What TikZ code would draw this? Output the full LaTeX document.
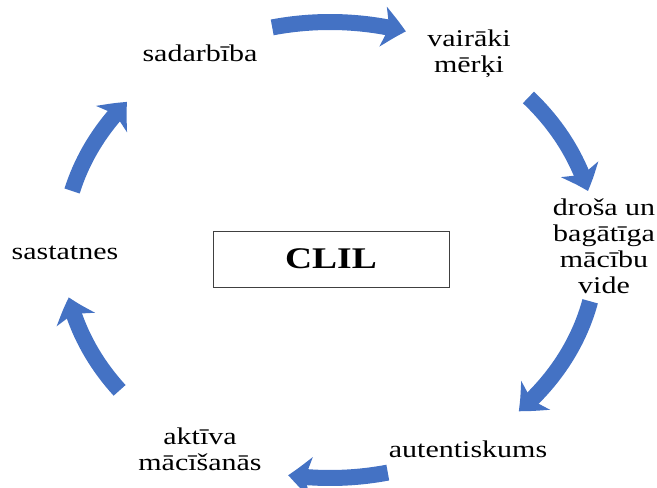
\documentclass[tikz,border=0pt]{standalone}
\usepackage{fontspec}
\setmainfont{Liberation Serif}[FakeStretch=1.25]
\usepackage{xcolor}
\usetikzlibrary{arrows.meta}
\usetikzlibrary{bending}

\definecolor{cycleblue}{HTML}{4472C4}

\begin{document}
\begin{tikzpicture}[ thick,x=1pt,y=1pt,
	lbl/.style={font=\fontsize{24}{26}\selectfont, align=center, inner sep=0pt},
	cyclearrow/.style={draw=cycleblue, line width=16pt,
		-{Stealth[length=23pt,width=40pt,inset=6pt,bend]}}]
	\useasboundingbox (0,0) rectangle (657,488);

	% (centre)
	\coordinate (O) at (330,238);
	\node[draw=black!75, line width=0.8pt, minimum width=236pt, minimum height=56pt,
		font=\fontsize{30}{32}\selectfont\bfseries] (clil) at (331,229) {CLIL};

	% (labels)
	\node[lbl, anchor=base] (sadarbiba) at (200,426) {sadarbība};
	\node[lbl] (merki) at (469,434) {vairāki\\mērķi};
	\node[lbl] (vide) at (604,242) {droša un\\bagātīga\\mācību\\vide};
	\node[lbl, anchor=base] (autent) at (468,30) {autentiskums};
	\node[lbl] (aktiva) at (200,39) {aktīva\\mācīšanās};
	\node[lbl, anchor=base] (sastatnes) at (65,228) {sastatnes};

	% (arrows)
	\foreach \a/\b [count=\i] in {102.5/73.5, 42/15, -13/-45, -77.5/-99, 218/192, 165/139.5}
	{
		\path (O) ++(\a:267pt and 228pt) coordinate (s\i);
		\draw[cyclearrow] (s\i) arc[start angle=\a, end angle=\b, x radius=267pt, y radius=228pt];
	}

\end{tikzpicture}
\end{document}
